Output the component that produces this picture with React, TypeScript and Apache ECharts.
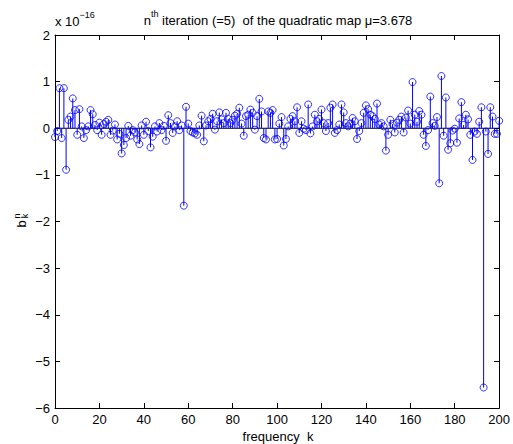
import React, { useEffect, useRef } from "react";
import * as echarts from "echarts";

// frequency index k = 0..200
const kStart = 0;
const bValues: number[] = [
  // k 0-9
  -0.19, -0.06, 0.86, -0.21, 0.86, -0.89, 0.18, 0.25, 0.64, 0.39,
  // k 10-19
  -0.14, 0.41, 0.04, -0.21, -0.04, 0.04, 0.39, 0.3, 0.07, -0.04,
  // k 20-29
  0.12, -0.14, 0.09, 0.14, 0.18, -0.14, -0.05, 0.08, -0.24, -0.12,
  // k 30-39
  -0.54, -0.36, -0.21, 0.05, -0.16, -0.04, -0.09, -0.24, -0.34, 0.06,
  // k 40-49
  -0.14, 0.14, -0.06, -0.41, -0.18, 0.04, -0.07, 0.11, -0.04, 0.05,
  // k 50-59
  -0.27, 0.28, 0.11, -0.1, 0.04, 0.15, -0.04, 0.06, -1.66, 0.46,
  // k 60-69
  0.1, -0.06, -0.09, -0.11, -0.14, 0.06, 0.27, -0.28, 0.06, 0.15,
  // k 70-79
  0.2, 0.31, -0.03, 0.15, 0.34, 0.19, 0.11, 0.33, 0.2, 0.11,
  // k 80-89
  0.18, 0.27, 0.31, 0.44, 0.1, -0.16, 0.26, 0.29, 0.4, 0.33,
  // k 90-99
  -0.03, 0.26, 0.63, 0.36, -0.21, -0.24, 0.36, 0.33, 0.39, -0.24,
  // k 100-109
  -0.23, 0.1, 0.24, -0.37, -0.23, 0.04, 0.2, 0.26, 0.15, 0.45,
  // k 110-119
  -0.1, 0.15, -0.01, -0.04, 0.51, -0.11, 0.04, 0.29, 0.15, 0.2,
  // k 120-129
  0.4, 0.11, -0.06, 0.11, 0.44, 0.51, -0.1, -0.04, 0.08, 0.51,
  // k 130-139
  0.34, 0.11, 0.04, 0.1, 0.22, 0.15, -0.23, -0.06, 0.11, 0.33,
  // k 140-149
  0.49, 0.41, 0.29, 0.26, 0.2, 0.53, 0.08, 0.11, 0.04, -0.48,
  // k 150-159
  -0.14, 0.18, 0.09, -0.09, 0.12, 0.18, 0.25, -0.09, 0.23, 0.38,
  // k 160-169
  0.1, 0.99, 0.29, 0.14, 0.37, 0.29, -0.14, -0.38, -0.04, 0.68,
  // k 170-179
  0.11, 0.05, 0.24, -1.18, 1.12, -0.16, 0.66, -0.46, -0.32, -0.05,
  // k 180-189
  -0.01, -0.31, 0.21, 0.56, 0.07, 0.29, 0.19, -0.14, -0.68, -0.07,
  // k 190-199
  -0.12, 0.14, 0.45, -5.56, -0.07, -0.55, 0.45, 0.25, -0.12, -0.12,
  // k 200
  0.16,
];

const xMin = 0;
const xMax = 200;
const xStep = 20;
const yMin = -6;
const yMax = 2;
const yStep = 1;

const titleMain = " iteration (=5)  of the quadratic map μ=3.678";
const titleBase = "n";
const titleSup = "th";
const scaleLabel = "x 10";
const scaleExp = "−16";
const xLabel = "frequency  k";

const FONT = "'Liberation Sans', Arial, Helvetica, sans-serif";
const BLUE = "#0000ff";

export default function App() {
  const ref = useRef<HTMLDivElement>(null);

  useEffect(() => {
    if (!ref.current) return;
    const chart = echarts.init(ref.current, undefined, { renderer: "svg" });
    const points = bValues.map((v, i) => [kStart + i, v]);

    const axisCommon = {
      type: "value" as const,
      axisLine: { show: true, onZero: false, lineStyle: { color: "#000", width: 1 } },
      axisTick: { show: true, inside: true, length: 5, lineStyle: { color: "#000", width: 1 } },
      splitLine: { show: false },
    };

    chart.setOption({
      animation: false,
      backgroundColor: "#ffffff",
      textStyle: { fontFamily: FONT },
      grid: { left: 55, right: 12, top: 35, bottom: 36, containLabel: false },
      xAxis: [
        {
          ...axisCommon,
          position: "bottom",
          min: xMin,
          max: xMax,
          interval: xStep,
          axisLabel: { color: "#000", fontSize: 13, fontFamily: FONT, margin: 5 },
        },
        {
          ...axisCommon,
          position: "top",
          min: xMin,
          max: xMax,
          interval: xStep,
          axisLabel: { show: false },
        },
      ],
      yAxis: [
        {
          ...axisCommon,
          position: "left",
          min: yMin,
          max: yMax,
          interval: yStep,
          axisLabel: {
            color: "#000",
            fontSize: 13,
            fontFamily: FONT,
            margin: 5,
            formatter: (v: number) => String(v).replace("-", "−"),
          },
        },
        {
          ...axisCommon,
          position: "right",
          min: yMin,
          max: yMax,
          interval: yStep,
          axisLabel: { show: false },
        },
      ],
      series: [
        {
          type: "line",
          xAxisIndex: 0,
          yAxisIndex: 0,
          data: [
            [xMin, 0],
            [xMax, 0],
          ],
          symbol: "none",
          lineStyle: { color: "#000", width: 1 },
          z: 1,
          silent: true,
        },
        {
          type: "bar",
          xAxisIndex: 0,
          yAxisIndex: 0,
          data: points,
          barWidth: 1,
          itemStyle: { color: BLUE },
          z: 2,
          silent: true,
        },
        {
          type: "scatter",
          xAxisIndex: 0,
          yAxisIndex: 0,
          data: points,
          symbol: "circle",
          symbolSize: 7,
          itemStyle: { color: "transparent", borderColor: BLUE, borderWidth: 1 },
          z: 3,
          silent: true,
        },
      ],
      graphic: [
        {
          type: "text",
          x: 278,
          y: 18,
          style: {
            text: `{a|${titleBase}}{s|${titleSup}}{a|${titleMain}}`,
            align: "center",
            verticalAlign: "middle",
            fill: "#000",
            rich: {
              a: { fontSize: 13, fontFamily: FONT, fill: "#000", lineHeight: 18, verticalAlign: "bottom" },
              s: { fontSize: 9, fontFamily: FONT, fill: "#000", lineHeight: 18, verticalAlign: "top" },
            },
          },
        },
        {
          type: "text",
          x: 55,
          y: 19,
          style: {
            text: `{a|${scaleLabel}}{s|${scaleExp}}`,
            align: "left",
            verticalAlign: "middle",
            fill: "#000",
            rich: {
              a: { fontSize: 13, fontFamily: FONT, fill: "#000", lineHeight: 18, verticalAlign: "bottom" },
              s: { fontSize: 9, fontFamily: FONT, fill: "#000", lineHeight: 18, verticalAlign: "top" },
            },
          },
        },
        {
          type: "text",
          x: 278,
          y: 436,
          style: {
            text: xLabel,
            align: "center",
            verticalAlign: "middle",
            fontSize: 13,
            fontFamily: FONT,
            fill: "#000",
          },
        },
        {
          type: "group",
          x: 21,
          y: 221,
          rotation: Math.PI / 2,
          children: [
            {
              type: "text",
              x: -3,
              y: 0,
              style: { text: "b", align: "center", verticalAlign: "middle", fontSize: 13, fontFamily: FONT, fill: "#000" },
            },
            {
              type: "text",
              x: 5,
              y: -4,
              style: { text: "n", align: "center", verticalAlign: "middle", fontSize: 9, fontFamily: FONT, fill: "#000" },
            },
            {
              type: "text",
              x: 5,
              y: 4,
              style: { text: "k", align: "center", verticalAlign: "middle", fontSize: 9, fontFamily: FONT, fill: "#000" },
            },
          ],
        },
      ],
    });

    return () => chart.dispose();
  }, []);

  return (
    <div
      ref={ref}
      style={{ position: "fixed", left: 0, top: 0, width: 513, height: 444, background: "#fff" }}
    />
  );
}
